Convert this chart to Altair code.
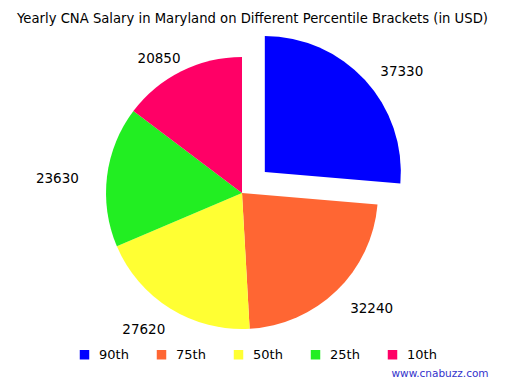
import altair as alt
import pandas as pd

brackets = ["90th", "75th", "50th", "25th", "10th"]
salaries = [37330, 32240, 27620, 23630, 20850]
colors = ["#0000FF", "#FF6633", "#FFFF33", "#22EE22", "#FF0066"]
title_text = "Yearly CNA Salary in Maryland on Different Percentile Brackets (in USD)"
exploded = "90th"
watermark = ["www.cnabuzz.com"]

FONT = "DejaVu Sans"
CX, CY = 234, 159
R = 136
EXPLODE = 31
LRX, LRY = 186, 155
LDY = 5

df = pd.DataFrame({"bracket": brackets, "salary": salaries, "order": list(range(len(brackets)))})

base = (
    alt.Chart(df)
    .transform_joinaggregate(total="sum(salary)")
    .transform_window(cum="sum(salary)", sort=[alt.SortField("order")], frame=[None, 0])
    .transform_calculate(a0="2*PI*(datum.cum - datum.salary)/datum.total")
    .transform_calculate(a1="2*PI*datum.cum/datum.total")
    .transform_calculate(mid="(datum.a0 + datum.a1)/2")
    .transform_calculate(ex=f"datum.bracket == '{exploded}' ? {EXPLODE} : 0")
    .transform_calculate(cx=f"{CX} + datum.ex*sin(datum.mid)")
    .transform_calculate(cy=f"{CY} - datum.ex*cos(datum.mid)")
    .transform_calculate(lx=f"datum.cx + {LRX}*sin(datum.mid)")
    .transform_calculate(ly=f"datum.cy - {LRY}*cos(datum.mid) + {LDY}")
)

arcs = base.mark_arc(radius=R, stroke=None).encode(
    theta=alt.Theta("a0:Q", scale=None),
    theta2="a1:Q",
    x=alt.X("cx:Q", scale=None, axis=None),
    y=alt.Y("cy:Q", scale=None, axis=None),
    color=alt.Color(
        "bracket:N",
        scale=alt.Scale(domain=brackets, range=colors),
        legend=alt.Legend(
            title=None,
            orient="none",
            legendX=70,
            legendY=314,
            direction="horizontal",
            symbolType="square",
            symbolSize=90,
            symbolStrokeWidth=0,
            labelFontSize=13,
            labelFont=FONT,
            labelColor="#000000",
            columnPadding=26,
            labelOffset=8,
        ),
    ),
)

labels = base.mark_text(fontSize=13.5, font=FONT, color="#000000").encode(
    x=alt.X("lx:Q", scale=None, axis=None),
    y=alt.Y("ly:Q", scale=None, axis=None),
    text=alt.Text("salary:Q", format="d"),
)

wm = alt.Chart(pd.DataFrame({"t": watermark})).mark_text(
    fontSize=10.5, font=FONT, color="#3333CC"
).encode(x=alt.value(432), y=alt.value(340), text="t:N")

chart = (
    alt.layer(arcs, labels, wm)
    .properties(
        width=489,
        height=310,
        padding={"top": 3, "left": 0, "right": 0, "bottom": 0},
        title=alt.TitleParams(
            title_text, fontSize=13.2, font=FONT, fontWeight="normal", anchor="middle", offset=8, color="#000000"
        ),
    )
    .configure_view(stroke=None)
)

chart.save("out.html", embed_options={"renderer": "svg", "actions": False})
